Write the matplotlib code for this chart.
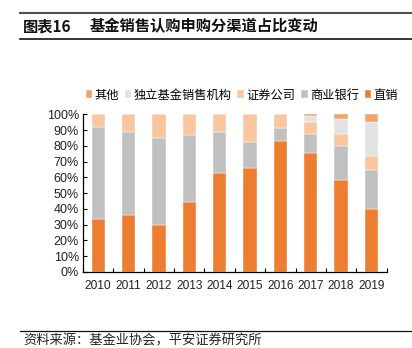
import numpy as np
import matplotlib; matplotlib.use("Agg")
import matplotlib.pyplot as plt
from matplotlib.lines import Line2D
from matplotlib.ticker import PercentFormatter

plt.rcParams['font.family'] = ['Noto Sans CJK SC', 'DejaVu Sans']

years = ["2010", "2011", "2012", "2013", "2014", "2015", "2016", "2017", "2018", "2019"]
# shares in %, stacked bottom -> top
direct = [33.9, 36.3, 30.1, 44.7, 63.0, 66.2, 83.1, 75.3, 58.6, 40.1]
bank = [58.1, 52.7, 55.1, 42.2, 26.0, 16.1, 8.4, 12.2, 21.3, 24.6]
securities = [8.0, 11.0, 14.8, 13.1, 11.0, 17.7, 8.5, 7.8, 7.6, 9.1]
independent = [0.0, 0.0, 0.0, 0.0, 0.0, 0.0, 0.0, 3.6, 9.7, 21.1]
other = [0.0, 0.0, 0.0, 0.0, 0.0, 0.0, 0.0, 1.0, 2.8, 5.1]

series = [("直销", direct, "#ED7D31"),
          ("商业银行", bank, "#C0C0C0"),
          ("证券公司", securities, "#F9C6A0"),
          ("独立基金销售机构", independent, "#E2E2E2"),
          ("其他", other, "#F4A46A")]

fig = plt.figure(figsize=(4.12, 3.48), dpi=100)
ax = fig.add_axes([83/412, 1-272/348, (386.7-83)/412, (272-114.3)/348])

x = np.arange(len(years))
bottom = np.zeros(len(years))
handles = {}
for name, vals, col in series:
    v = np.array(vals) / 100
    handles[name] = ax.bar(x, v, width=0.44, bottom=bottom, color=col,
                           edgecolor="white", linewidth=0.3)
    bottom += v

ax.set_xlim(-0.5, len(years) - 0.5)
ax.set_ylim(0, 1)
ax.set_yticks(np.arange(0, 1.01, 0.1))
ax.yaxis.set_major_formatter(PercentFormatter(1.0, decimals=0))
ax.set_xticks(x)
ax.set_xticklabels(years)
ax.set_xticks(np.arange(-0.5, len(years)), minor=True)
ax.tick_params(axis="x", which="major", length=0, pad=6)
ax.tick_params(axis="x", which="minor", length=3, direction="in", width=0.8)
ax.tick_params(axis="y", length=3, direction="in", width=0.8, pad=3)
for lab in ax.get_yticklabels():
    lab.set_family(["Liberation Sans", "DejaVu Sans"])
    lab.set_fontsize(9)
    lab.set_color("#222222")
for lab in ax.get_xticklabels():
    lab.set_family(["Liberation Sans", "DejaVu Sans"])
    lab.set_fontsize(8.6)
    lab.set_color("#222222")
for s in ["top", "right"]:
    ax.spines[s].set_visible(False)
for s in ["left", "bottom"]:
    ax.spines[s].set_linewidth(0.9)

order = ["其他", "独立基金销售机构", "证券公司", "商业银行", "直销"]
ax.legend([handles[n] for n in order], order, loc="center",
          bbox_to_anchor=(242/412, 1-95/348), bbox_transform=fig.transFigure,
          ncol=5, frameon=False, fontsize=8.8, handlelength=0.55, handleheight=0.55,
          handletextpad=0.2, columnspacing=0.45, borderpad=0)

fig.add_artist(Line2D([20/412, 1], [1-12.7/348]*2, color="#505050", lw=1.5))
fig.add_artist(Line2D([20/412, 1], [1-39.3/348]*2, color="#111111", lw=1.2))
fig.text(23/412, 1-26.5/348, "图表16", fontsize=11, fontweight="bold",
         va="center", ha="left", color="#111111")
fig.text(90/412, 1-26.5/348, "基金销售认购申购分渠道占比变动", fontsize=11,
         fontweight="bold", va="center", ha="left", color="#111111")

fig.add_artist(Line2D([20/412, 1], [1-331/348]*2, color="#111111", lw=0.9))
fig.text(23/412, 1-341/348, "资料来源：基金业协会，平安证券研究所", fontsize=9.5,
         style="italic", va="center", ha="left", color="#222222")

fig.savefig("out.png", dpi=100)
